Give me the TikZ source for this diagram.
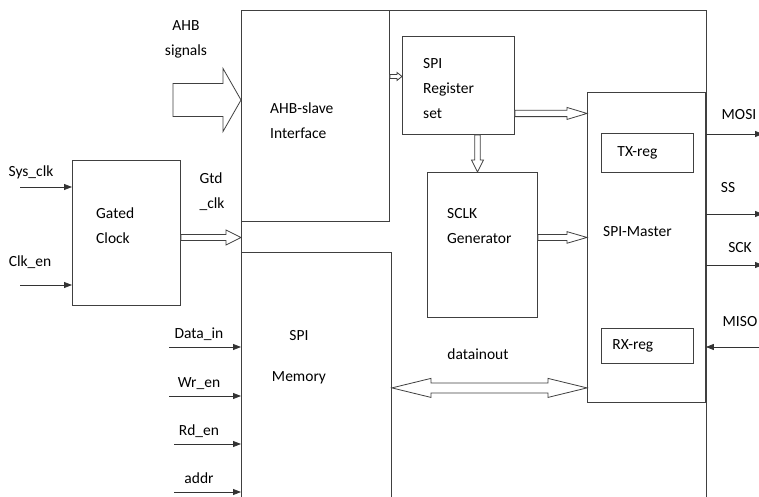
\documentclass[tikz,border=0pt]{standalone}
\usepackage{fontspec}
\setmainfont{Carlito}
\usetikzlibrary{arrows.meta, calc}

\tikzset{
    blk/.style={draw=black!75, line width=0.9pt, anchor=north west, inner sep=0pt, align=left},
    txt/.style={align=left, inner sep=0pt},
    sig/.style={draw=black!80, line width=0.8pt, -{Triangle[length=8pt, width=6pt]}},
    busline/.style={draw=black!75, line width=0.8pt, fill=white, line join=miter}
}

% hollow bus arrow: start, end, shaft half width, head half width, head length
\newcommand{\busarrow}[5]{%
    \path (#1) coordinate (ba-a) (#2) coordinate (ba-b);
    \path ($(ba-b)!#5!(ba-a)$) coordinate (ba-h);
    \draw[busline] ($(ba-a)!#3!90:(ba-b)$) -- ($(ba-h)!#3!90:(ba-b)$) -- ($(ba-h)!#4!90:(ba-b)$)
        -- (ba-b) -- ($(ba-h)!#4!-90:(ba-b)$) -- ($(ba-h)!#3!-90:(ba-b)$)
        -- ($(ba-a)!#3!-90:(ba-b)$) -- cycle;
}
% same, with a head at both ends
\newcommand{\busarrowboth}[5]{%
    \path (#1) coordinate (ba-a) (#2) coordinate (ba-b);
    \path ($(ba-b)!#5!(ba-a)$) coordinate (ba-h) ($(ba-a)!#5!(ba-b)$) coordinate (ba-g);
    \draw[busline] (ba-a) -- ($(ba-g)!#4!90:(ba-b)$) -- ($(ba-g)!#3!90:(ba-b)$)
        -- ($(ba-h)!#3!90:(ba-b)$) -- ($(ba-h)!#4!90:(ba-b)$) -- (ba-b)
        -- ($(ba-h)!#4!-90:(ba-b)$) -- ($(ba-h)!#3!-90:(ba-b)$)
        -- ($(ba-g)!#3!-90:(ba-b)$) -- ($(ba-g)!#4!-90:(ba-b)$) -- cycle;
}

\begin{document}
\begin{tikzpicture}[x=1pt, y=1pt, font=\fontsize{15.5}{25}\selectfont]
    \useasboundingbox (0,0) rectangle (759,-497);

    % blocks
    \node[blk, minimum width=465pt, minimum height=500pt] (chip) at (241,-10) {};
    \node[blk, minimum width=148pt, minimum height=211pt] (ahb) at (241,-10) {};
    \node[blk, minimum width=112pt, minimum height=98pt] (reg) at (402,-36) {};
    \node[blk, minimum width=110pt, minimum height=145pt] (sclk) at (427,-172) {};
    \node[blk, minimum width=118pt, minimum height=310pt] (master) at (587,-92) {};
    \node[blk, minimum width=92pt, minimum height=39pt, text width=60pt] (txreg) at (601,-133) {TX-reg};
    \node[blk, minimum width=92pt, minimum height=35pt, text width=70pt] (rxreg) at (601,-328) {RX-reg};
    \node[blk, minimum width=150pt, minimum height=260pt] (mem) at (241,-252) {};
    \node[blk, minimum width=108pt, minimum height=145pt] (gated) at (72,-160) {};

    \node[txt, anchor=west] (ahb-text) at ([shift={(29pt,-110.5pt)}]ahb.north west) {AHB-slave\\Interface};
    \node[txt, anchor=west] (reg-text) at ([shift={(21pt,-53pt)}]reg.north west) {SPI\\Register\\set};
    \node[txt, anchor=west] (gated-text) at ([shift={(24pt,-66pt)}]gated.north west) {Gated\\Clock};
    \node[txt, anchor=west] (sclk-text) at ([shift={(20pt,-54pt)}]sclk.north west) {SCLK\\Generator};
    \node[txt, anchor=west] (master-text) at ([shift={(16pt,-140pt)}]master.north west) {SPI-Master};
    \node[txt, align=center] (mem-text) at ([shift={(58pt,-105pt)}]mem.north west) {SPI\\[16pt]Memory};

    % inputs of the gated clock
    \coordinate (sysclk-in) at (20,-187);
    \coordinate (clken-in) at (20,-285);
    \draw[sig] (sysclk-in) -- (sysclk-in -| gated.west);
    \draw[sig] (clken-in) -- (clken-in -| gated.west);
    \node (sysclk-lbl) at (31,-172) {Sys\_clk};
    \node (clken-lbl) at (30,-262) {Clk\_en};

    % AHB side
    \coordinate (ahb-in) at (173,-100);
    \busarrow{ahb-in}{ahb-in -| ahb.west}{16.5pt}{31.5pt}{18pt}
    \node[align=center] (ahb-lbl) at (186,-39) {AHB\\signals};
    \busarrow{[yshift=-4.5pt]gated.east}{[yshift=-4.5pt]gated.east -| chip.west}{3pt}{7.5pt}{15pt}
    \node[txt] (gtd-lbl) at (212,-192) {Gtd\\\_clk};

    % internal buses
    \busarrow{[yshift=9pt]reg.west -| ahb.east}{[yshift=9pt]reg.west}{2pt}{4pt}{5pt}
    \busarrow{[yshift=-28pt]reg.east}{[yshift=-28pt]reg.east -| master.west}{3.2pt}{6pt}{20pt}
    \busarrow{[xshift=19pt]reg.south}{[xshift=19pt]reg.south |- sclk.north}{2.8pt}{6pt}{12pt}
    \busarrow{[yshift=7.5pt]sclk.east}{[yshift=7.5pt]sclk.east -| master.west}{3pt}{5.8pt}{20pt}
    \busarrowboth{[yshift=15pt]master.south west -| mem.east}{[yshift=15pt]master.south west}{5pt}{9.5pt}{39pt}
    \node (bus-lbl) at (478,-354) {datainout};

    % memory inputs
    \foreach \y/\x/\lbl/\nm in {347/169/Data\_in/datain, 396/169/Wr\_en/wren, 444/174/Rd\_en/rden, 492/174/addr/addr} {
        \coordinate (\nm-in) at (\x,-\y);
        \draw[sig] (\nm-in) -- (\nm-in -| chip.west);
        \node[anchor=base] (\nm-lbl) at (199,-\y+9) {\lbl};
    }

    % SPI pins
    \foreach \y/\lbl/\nm in {134/MOSI/mosi, 214/SS/ss, 265/SCK/sck} {
        \coordinate (\nm-out) at (763,-\y);
        \draw[sig] (\nm-out -| master.east) -- (\nm-out);
    }
    \coordinate (miso-in) at (759,-347);
    \draw[sig] (miso-in) -- (miso-in -| master.east);
    \node (mosi-lbl) at (739,-115) {MOSI};
    \node (ss-lbl) at (728,-188) {SS};
    \node (sck-lbl) at (740,-248) {SCK};
    \node (miso-lbl) at (740,-322) {MISO};
\end{tikzpicture}
\end{document}
